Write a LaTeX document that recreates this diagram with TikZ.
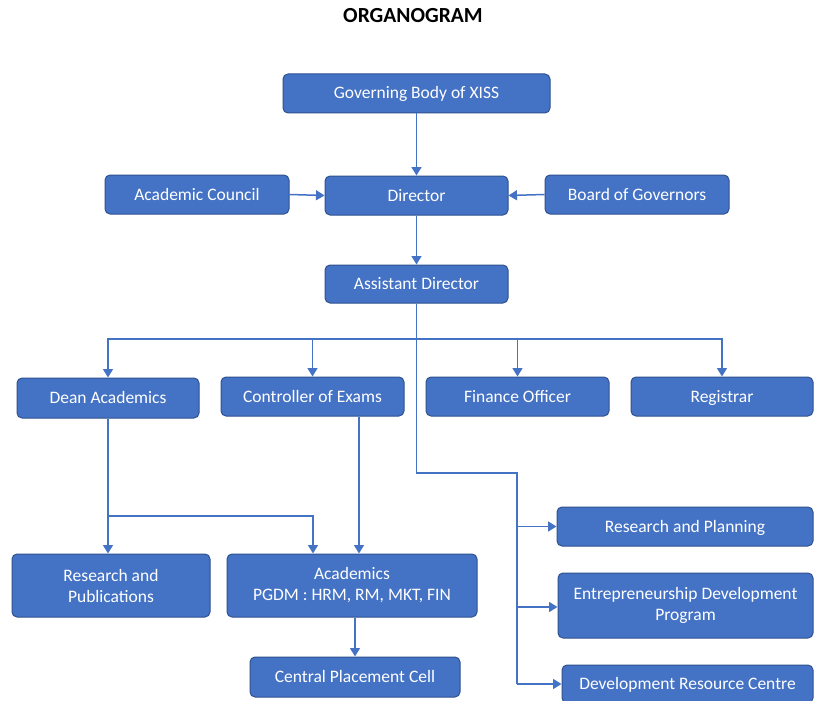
\documentclass[tikz,border=0pt]{standalone}
\usepackage{fontspec}
\setmainfont{Carlito}
\usetikzlibrary{arrows.meta}
\definecolor{boxblue}{HTML}{4472C4}
\definecolor{boxedge}{HTML}{2F528F}
\definecolor{lineblue}{HTML}{4472C4}
\begin{document}
\begin{tikzpicture}[x=1pt,y=-1pt,
  box/.style={draw=boxedge,line width=1pt,fill=boxblue,rounded corners=5pt,
    text=white,font=\fontsize{17.5}{21}\selectfont,align=center,inner sep=0pt},
  one/.style={box,text height=11.5pt,text depth=0.5pt},
  conn/.style={draw=lineblue,line width=1.5pt},
  arr/.style={conn,-{Triangle[width=10pt,length=8.5pt]}}]
\useasboundingbox (0,0) rectangle (815,701);
\fill[white] (0,0) rectangle (815,701);
\node[font=\fontsize{21.5}{25}\selectfont\bfseries] (title) at (413,16) {ORGANOGRAM};
\node[one,minimum width=267pt,minimum height=39pt] (gov) at (416.5,93.5) {Governing Body of XISS};
\node[one,minimum width=184pt,minimum height=39pt] (ac) at (197,194.5) {Academic Council};
\node[one,minimum width=183pt,minimum height=39pt] (dir) at (416.5,195.5) {Director};
\node[one,minimum width=184pt,minimum height=39pt] (bog) at (637,194.5) {Board of Governors};
\node[one,minimum width=183pt,minimum height=38pt] (ad) at (416.5,284) {Assistant Director};
\node[one,minimum width=182pt,minimum height=40pt] (dean) at (108,398) {Dean Academics};
\node[one,minimum width=183pt,minimum height=39pt] (coe) at (312.5,396.5) {Controller of Exams};
\node[one,minimum width=183pt,minimum height=39pt] (fin) at (517.5,396.5) {Finance Officer};
\node[one,minimum width=182pt,minimum height=39pt] (reg) at (722,396.5) {Registrar};
\node[box,minimum width=198pt,minimum height=63pt] (rp) at (111,585.5) {Research and\\Publications};
\node[box,minimum width=250pt,minimum height=63pt] (acad) at (352,585.5) {Academics\\PGDM : HRM, RM, MKT, FIN};
\node[one,minimum width=210pt,minimum height=40pt] (cpc) at (355,677) {Central Placement Cell};
\node[one,minimum width=256pt,minimum height=39pt] (rplan) at (685,526.5) {Research and Planning};
\node[box,minimum width=255pt,minimum height=65pt] (edp) at (685.5,605.5) {Entrepreneurship Development\\Program};
\node[one,minimum width=251pt,minimum height=38pt] (drc) at (687.5,684) {Development Resource Centre};
% connectors
\draw[arr] (gov.south) -- (dir.north);
\draw[arr] (ac.east) -- (dir.west);
\draw[arr] (bog.west) -- (dir.east);
\draw[arr] (dir.south) -- (ad.north);
\coordinate (bus) at (416.5,339);
\coordinate (turn) at (416.5,473);
\coordinate (side) at (517,473);
\coordinate (sideend) at (517,684);
\draw[conn] (ad.south) -- (bus);
\draw[arr] (bus) -| (dean.north);
\draw[arr] (bus) -| (coe.north);
\draw[arr] (bus) -| (fin.north);
\draw[arr] (bus) -| (reg.north);
\draw[conn] (bus) -- (turn) -- (side) -- (sideend);
\draw[arr] (side |- rplan.west) -- (rplan.west);
\draw[arr] ([yshift=-1.5pt]side |- edp.west) -- ([yshift=-1.5pt]edp.west);
\draw[arr] (sideend) -- (drc.west);
\coordinate (db) at (108,516);
\draw[arr] (dean.south) -- (dean.south |- rp.north);
\draw[arr] (db) -| ([xshift=-39pt]acad.north);
\draw[arr] ([xshift=-45.5pt]coe.south east) -- ([xshift=-45.5pt]coe.south east |- acad.north);
\draw[arr] (cpc.north |- acad.south) -- (cpc.north);
\end{tikzpicture}
\end{document}
